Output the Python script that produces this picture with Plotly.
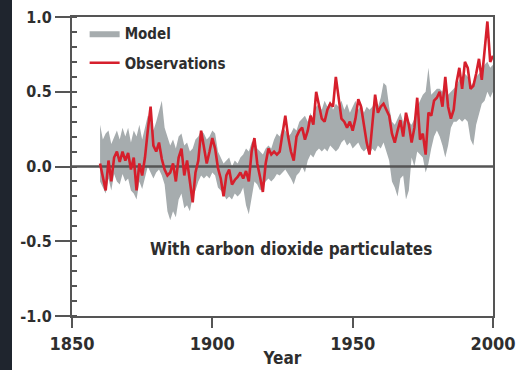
import plotly.graph_objects as go

# ---- data ----
years = list(range(1860, 2001))

observations = [
    0.02, -0.08, -0.16, 0.04, -0.10, 0.06, 0.10, 0.03, 0.10, 0.04,   # 1860s
    0.09, -0.02, 0.06, -0.16, 0.02, -0.06, 0.06, 0.24, 0.40, 0.14,   # 1870s
    0.10, 0.16, 0.05, -0.02, -0.06, -0.04, 0.02, -0.10, 0.06, 0.12,  # 1880s
    -0.06, 0.04, -0.12, -0.24, -0.04, 0.04, 0.24, 0.12, 0.02, 0.10,  # 1890s
    0.19, 0.12, -0.01, -0.08, -0.20, -0.06, -0.02, -0.12, -0.09, -0.07,  # 1900s
    -0.04, -0.08, -0.03, -0.10, 0.10, 0.19, 0.02, -0.07, -0.17, 0.02,   # 1910s
    0.12, 0.08, 0.10, 0.08, 0.10, 0.22, 0.34, 0.20, 0.10, 0.04,     # 1920s
    0.20, 0.24, 0.26, 0.18, 0.24, 0.34, 0.28, 0.50, 0.42, 0.32,     # 1930s
    0.30, 0.38, 0.42, 0.40, 0.60, 0.44, 0.32, 0.30, 0.26, 0.30,     # 1940s
    0.24, 0.32, 0.45, 0.40, 0.28, 0.16, 0.08, 0.30, 0.48, 0.36,     # 1950s
    0.40, 0.42, 0.38, 0.34, 0.22, 0.16, 0.24, 0.31, 0.20, 0.36,     # 1960s
    0.28, 0.16, 0.26, 0.46, 0.18, 0.22, 0.08, 0.36, 0.34, 0.44,     # 1970s
    0.46, 0.50, 0.40, 0.60, 0.40, 0.32, 0.38, 0.56, 0.66, 0.52,     # 1980s
    0.70, 0.66, 0.52, 0.54, 0.62, 0.72, 0.58, 0.80, 0.97, 0.70,     # 1990s
    0.74,                                                            # 2000
]

model_high = [
    0.28, 0.18, 0.22, 0.24, 0.15, 0.20, 0.24, 0.18, 0.26, 0.20,
    0.26, 0.16, 0.24, 0.20, 0.28, 0.18, 0.26, 0.34, 0.32, 0.24,
    0.30, 0.38, 0.44, 0.26, 0.20, 0.14, 0.18, 0.12, 0.20, 0.22,
    0.14, 0.16, 0.10, 0.12, 0.18, 0.20, 0.24, 0.22, 0.18, 0.20,
    0.24, 0.22, 0.10, 0.06, 0.02, 0.04, 0.06, 0.00, 0.04, 0.02,
    0.06, 0.08, 0.12, 0.10, 0.16, 0.18, 0.12, 0.10, 0.08, 0.12,
    0.14, 0.12, 0.18, 0.22, 0.20, 0.26, 0.24, 0.20, 0.22, 0.26,
    0.24, 0.30, 0.32, 0.34, 0.30, 0.36, 0.28, 0.40, 0.42, 0.38,
    0.44, 0.40, 0.44, 0.38, 0.42, 0.40, 0.44, 0.38, 0.42, 0.36,
    0.40, 0.44, 0.38, 0.42, 0.36, 0.40, 0.38, 0.40, 0.44, 0.40,
    0.46, 0.56, 0.54, 0.40, 0.30, 0.28, 0.32, 0.36, 0.30, 0.34,
    0.30, 0.28, 0.32, 0.40, 0.44, 0.48, 0.50, 0.66, 0.48, 0.50,
    0.52, 0.52, 0.50, 0.58, 0.48, 0.50, 0.52, 0.54, 0.58, 0.60,
    0.62, 0.60, 0.54, 0.56, 0.60, 0.62, 0.64, 0.68, 0.70, 0.66,
    0.68,
]

model_low = [
    -0.10, -0.14, -0.18, -0.08, -0.16, -0.05, -0.10, -0.12, -0.05, -0.10,
    -0.08, -0.16, -0.18, -0.22, -0.10, -0.15, -0.08, 0.00, -0.04, -0.08,
    -0.04, -0.02, -0.06, -0.12, -0.30, -0.36, -0.30, -0.34, -0.22, -0.18,
    -0.28, -0.26, -0.30, -0.20, -0.16, -0.10, -0.06, -0.08, -0.06, -0.08,
    -0.04, -0.06, -0.14, -0.16, -0.18, -0.22, -0.20, -0.22, -0.18, -0.20,
    -0.18, -0.14, -0.26, -0.32, -0.20, -0.10, -0.12, -0.16, -0.14, -0.10,
    -0.08, -0.10, -0.08, -0.05, -0.06, -0.04, -0.02, -0.05, -0.08, -0.12,
    -0.06, -0.04, 0.00, -0.04, 0.04, 0.08, 0.06, 0.10, 0.12, 0.10,
    0.12, 0.10, 0.14, 0.12, 0.10, 0.12, 0.16, 0.18, 0.14, 0.16,
    0.12, 0.14, 0.16, 0.12, 0.10, 0.12, 0.08, 0.12, 0.10, 0.14,
    0.12, 0.16, 0.10, 0.04, -0.10, -0.14, -0.20, -0.08, -0.06, -0.22,
    -0.16, 0.06, 0.00, 0.10, 0.08, 0.06, -0.04, 0.02, 0.12, 0.20,
    0.24, 0.20, 0.14, 0.06, 0.14, 0.26, 0.30, 0.30, 0.32, 0.30,
    0.32, 0.30, 0.18, 0.14, 0.28, 0.36, 0.42, 0.44, 0.50, 0.46,
    0.50,
]

x_ticks = [1850, 1900, 1950, 2000]
y_ticks = [-1.0, -0.5, 0.0, 0.5, 1.0]
y_tick_labels = ["-1.0", "-0.5", "0.0", "0.5", "1.0"]

FONT = "DejaVu Sans Condensed, Liberation Sans Narrow, DejaVu Sans, sans-serif"
TXT = "#2e2e2e"
AX = "#555555"
BAND = "#a6acae"

fig = go.Figure()

fig.add_trace(go.Scatter(
    x=years, y=model_low, mode="lines", line=dict(width=0, color=BAND),
    showlegend=False, hoverinfo="skip", legendgroup="m",
))
fig.add_trace(go.Scatter(
    x=years, y=model_high, mode="lines", line=dict(width=0, color=BAND),
    fill="tonexty", fillcolor=BAND, name="Model", legendgroup="m",
))
# zero reference line drawn over the model band
fig.add_trace(go.Scatter(
    x=[x_ticks[0], x_ticks[-1]], y=[0, 0], mode="lines",
    line=dict(color=AX, width=2.5), showlegend=False, hoverinfo="skip",
))
fig.add_trace(go.Scatter(
    x=years, y=observations, mode="lines", line=dict(color="#d61f2c", width=2.6),
    name="Observations", legendgroup="o",
))

fig.update_layout(
    width=527, height=370,
    margin=dict(l=72, r=34, t=17, b=54, autoexpand=False),
    paper_bgcolor="white", plot_bgcolor="white",
    font=dict(family=FONT, color=TXT, size=15, weight="bold"),
    showlegend=True,
    legend=dict(
        x=0.03, y=1.0, xanchor="left", yanchor="top",
        bgcolor="rgba(0,0,0,0)", tracegroupgap=7,
        font=dict(family=FONT, size=15, color=TXT, weight="bold"),
        itemwidth=30,
    ),
    xaxis=dict(
        range=[1850, 2000], tickvals=x_ticks, ticktext=[str(v) for v in x_ticks],
        ticks="outside", ticklen=10, tickwidth=2, tickcolor=AX,
        showline=True, linecolor=AX, linewidth=2, mirror=True,
        showgrid=False, zeroline=False, automargin=False,
        tickfont=dict(size=18, family=FONT, color=TXT, weight="bold"),
        title=dict(text="Year", font=dict(size=17, family=FONT, color=TXT, weight="bold"), standoff=0),
    ),
    xaxis2=dict(
        overlaying="x", side="top", anchor="y", range=[1850, 2000],
        tickvals=x_ticks, ticks="inside", ticklen=6, tickwidth=1.5, tickcolor=AX,
        showticklabels=False, showgrid=False, zeroline=False, showline=False,
        automargin=False,
    ),
    yaxis=dict(
        range=[-1.0, 1.0], tickvals=y_ticks, ticktext=y_tick_labels,
        ticks="outside", ticklen=15, tickwidth=2, tickcolor=AX,
        minor=dict(dtick=0.1, ticks="inside", ticklen=5, tickwidth=1.5, tickcolor=AX, showgrid=False),
        showline=True, linecolor=AX, linewidth=2, mirror=True,
        showgrid=False, zeroline=False, automargin=False,
        tickfont=dict(size=16, family=FONT, color=TXT, weight="bold"),
    ),
    yaxis2=dict(
        overlaying="y", side="right", anchor="x", range=[-1.0, 1.0],
        tickvals=[round(-1 + 0.1 * i, 1) for i in range(21)],
        ticks="inside", ticklen=5, tickwidth=1.5, tickcolor=AX,
        showticklabels=False, showgrid=False, zeroline=False, showline=False,
        automargin=False,
    ),
    annotations=[dict(
        text="With carbon dioxide particulates", xref="paper", yref="paper",
        x=0.52, y=0.225, xanchor="center", yanchor="middle", showarrow=False,
        font=dict(size=17, family=FONT, color=TXT, weight="bold"),
    )],
    shapes=[dict(
        type="rect", xref="paper", yref="paper",
        x0=-0.2, x1=-60 / 421, y0=-0.3, y1=1.2,
        fillcolor="#1f252e", line=dict(width=0), layer="below",
    )],
)

fig.write_html(
    "out.html",
    config={"displayModeBar": False},
    post_script="document.body.style.margin='0';",
)
